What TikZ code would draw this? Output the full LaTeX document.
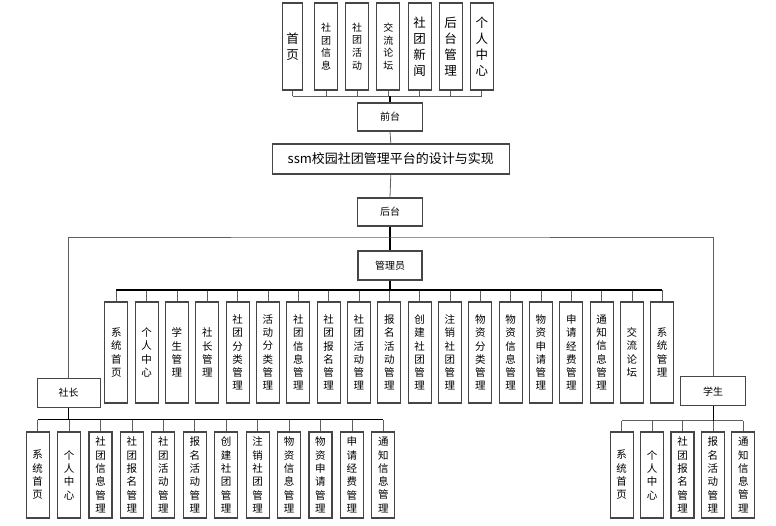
\documentclass[tikz,border=0pt]{standalone}
\usepackage{fontspec}
\setmainfont{Noto Sans CJK SC}
\usetikzlibrary{positioning}
\definecolor{rim}{RGB}{70,70,70}
\definecolor{wire}{RGB}{95,95,95}

\begin{document}
\begin{tikzpicture}[x=1pt,y=-1pt,
  box/.style={draw=rim,line width=1.1pt,fill=white,inner sep=0pt,align=center},
  cell/.style={box,minimum width=23pt,minimum height=#1},
  tag/.style={box,minimum width=65pt,minimum height=28pt,font=\fontsize{10}{12}\selectfont},
  fbig/.style={font=\fontsize{12.5}{16}\selectfont},
  fsmall/.style={font=\fontsize{10}{12.7}\selectfont},
  fcol/.style={font=\fontsize{10.5}{13.3}\selectfont},
  wire/.style={draw=wire,line width=0.8pt},
  trunk/.style={draw=black,line width=1.2pt}]
  \useasboundingbox (0,0) rectangle (776,526);

  % front pages
  \coordinate (topbus) at (390,96);
  \foreach \x/\t/\w/\f [count=\k] in {
    292.5/首\\页/20/fbig,
    326/社\\团\\信\\息/23/fsmall,
    357/社\\团\\活\\动/23/fsmall,
    388.3/交\\流\\论\\坛/23/fsmall,
    419.7/社\\团\\新\\闻/23/fbig,
    450.7/后\\台\\管\\理/23/fbig,
    481.8/个\\人\\中\\心/23/fbig}
  {
    \node[cell=87pt,minimum width=\w pt,\f] (t\k) at (\x,46.5) {\t};
    \draw[wire] (t\k.south) -- (t\k.south |- topbus);
  }
  \draw[wire] (t1.south |- topbus) -- (t7.south |- topbus);

  \node[tag] (front) at (390,117) {前台};
  \node[box,minimum width=237pt,minimum height=30pt,font=\fontsize{13}{15}\selectfont] (title) at (390.8,159) {ssm校园社团管理平台的设计与实现};
  \node[tag] (back) at (390,212) {后台};
  \node[tag,minimum width=64pt,minimum height=29pt] (admin) at (390,265.5) {管理员};
  \node[tag,minimum width=63pt,minimum height=29pt] (leader) at (68.7,392.8) {社长};
  \node[tag,minimum width=65pt,minimum height=29pt] (student) at (713.2,391.2) {学生};

  \draw[trunk] (topbus) -- (front.north);
  \draw[wire] (front.south) -- (title.north);
  \draw[wire] (title.south) -- (back.north);
  \draw[trunk] (back.south) -- (admin.north);
  \coordinate (split) at (390,237);
  \draw[wire] (leader.north) |- (split) -| (student.north);

  % admin functions
  \coordinate (abus) at (390,290);
  \foreach \t [count=\k] in {
    系\\统\\首\\页, 个\\人\\中\\心, 学\\生\\管\\理, 社\\长\\管\\理,
    社\\团\\分\\类\\管\\理, 活\\动\\分\\类\\管\\理, 社\\团\\信\\息\\管\\理,
    社\\团\\报\\名\\管\\理, 社\\团\\活\\动\\管\\理, 报\\名\\活\\动\\管\\理,
    创\\建\\社\\团\\管\\理, 注\\销\\社\\团\\管\\理, 物\\资\\分\\类\\管\\理,
    物\\资\\信\\息\\管\\理, 物\\资\\申\\请\\管\\理, 申\\请\\经\\费\\管\\理,
    通\\知\\信\\息\\管\\理, 交\\流\\论\\坛, 系\\统\\管\\理}
  {
    \node[cell=101pt,fcol] (a\k) at ({116.3+30.33*(\k-1)},352.5) {\t};
    \draw[wire] (a\k.north) -- (a\k.north |- abus);
  }
  \draw[trunk] (a1.north |- abus) -- (a19.north |- abus);
  \draw[trunk] (admin.south) -- (abus);

  % leader functions
  \coordinate (lbus) at (68.7,419.5);
  \foreach \t [count=\k] in {
    系\\统\\首\\页, 个\\人\\中\\心, 社\\团\\信\\息\\管\\理, 社\\团\\报\\名\\管\\理,
    社\\团\\活\\动\\管\\理, 报\\名\\活\\动\\管\\理, 创\\建\\社\\团\\管\\理,
    注\\销\\社\\团\\管\\理, 物\\资\\信\\息\\管\\理, 物\\资\\申\\请\\管\\理,
    申\\请\\经\\费\\管\\理, 通\\知\\信\\息\\管\\理}
  {
    \node[cell=86pt,fcol] (l\k) at ({37.7+31.42*(\k-1)},475) {\t};
    \draw[wire] (l\k.north) -- (l\k.north |- lbus);
  }
  \draw[trunk] (l1.north |- lbus) -- (l12.north |- lbus);
  \draw[trunk] (leader.south) -- (lbus);

  % student functions
  \coordinate (sbus) at (713.2,420.5);
  \foreach \t [count=\k] in {
    系\\统\\首\\页, 个\\人\\中\\心, 社\\团\\报\\名\\管\\理,
    报\\名\\活\\动\\管\\理, 通\\知\\信\\息\\管\\理}
  {
    \node[cell=86pt,fcol] (s\k) at ({621.7+30.4*(\k-1)},475) {\t};
    \draw[wire] (s\k.north) -- (s\k.north |- sbus);
  }
  \draw[wire] (s1.north |- sbus) -- (s5.north |- sbus);
  \draw[trunk] (student.south) -- (sbus);
\end{tikzpicture}
\end{document}
